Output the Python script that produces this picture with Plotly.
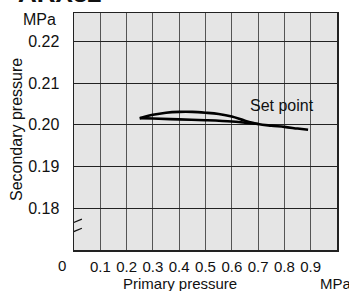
import plotly.graph_objects as go

# Data
upper_x = [0.25, 0.30, 0.35, 0.40, 0.45, 0.50, 0.55, 0.60, 0.65, 0.70, 0.75, 0.80, 0.85, 0.89]
upper_y = [0.2016, 0.2024, 0.2029, 0.2031, 0.2031, 0.2029, 0.2026, 0.2020, 0.2010, 0.2002, 0.1998, 0.1995, 0.1991, 0.1988]
lower_x = [0.25, 0.30, 0.40, 0.50, 0.60, 0.65, 0.70]
lower_y = [0.2016, 0.2015, 0.2013, 0.2011, 0.2008, 0.2005, 0.2002]
x_ticks = [0.1, 0.2, 0.3, 0.4, 0.5, 0.6, 0.7, 0.8, 0.9]
x_labels = ["0.1", "0.2", "0.3", "0.4", "0.5", "0.6", "0.7", "0.8", "0.9"]
y_ticks = [0.18, 0.19, 0.20, 0.21, 0.22]
y_labels = ["0.18", "0.19", "0.20", "0.21", "0.22"]

FONT = "Liberation Sans, Arial, sans-serif"
NARROW = "Liberation Sans Narrow, Arial Narrow, Liberation Sans, sans-serif"

fig = go.Figure()
line_style = dict(color="black", width=2.6, shape="spline", smoothing=1.0)
fig.add_trace(go.Scatter(x=upper_x, y=upper_y, mode="lines", line=line_style, showlegend=False, hoverinfo="skip"))
fig.add_trace(go.Scatter(x=lower_x, y=lower_y, mode="lines", line=line_style, showlegend=False, hoverinfo="skip"))

L, R, T, B, W, H = 74, 12, 13, 41, 349, 291
pw, ph = W - L - R, H - T - B

fig.update_layout(
    width=W, height=H,
    margin=dict(l=L, r=R, t=T, b=B, pad=0, autoexpand=False),
    paper_bgcolor="white",
    plot_bgcolor="#e5e5e5",
    font=dict(family=FONT, color="#111", size=16),
    xaxis=dict(
        range=[0, 1.0], tickvals=x_ticks, ticktext=x_labels,
        showgrid=True, gridcolor="#555", gridwidth=1,
        zeroline=False, showline=True, linecolor="#222", linewidth=1.5, mirror=True,
        ticks="", tickfont=dict(family=NARROW, size=15, color="#111"),
        ticklabelstandoff=2, fixedrange=True, automargin=False,
    ),
    yaxis=dict(
        range=[0.17, 0.2268], tickvals=y_ticks, ticktext=y_labels,
        showgrid=True, gridcolor="#222", gridwidth=1,
        zeroline=False, showline=True, linecolor="#222", linewidth=1.5, mirror=True,
        ticks="", tickfont=dict(family=FONT, size=16, color="#111"),
        ticklabelstandoff=10, fixedrange=True, automargin=False,
    ),
)

annotations = [
    dict(text="Set point", x=0.79, y=0.2047, xref="x", yref="y",
         font=dict(family=FONT, size=16, color="#111")),
    dict(text="MPa", x=39, y=20),
    dict(text="Secondary pressure", x=16, y=130, textangle=-90),
    dict(text="0", x=62, y=265, font=dict(family=NARROW, size=15, color="#111")),
    dict(text="Primary pressure", x=180, y=283, font=dict(family=NARROW, size=15, color="#111")),
    dict(text="MPa", x=336, y=283, font=dict(family=NARROW, size=15, color="#111")),
    dict(text="<b>ARX32</b>", x=60, y=-7, font=dict(family=FONT, size=26, color="#111")),
]
for a in annotations:
    if "xref" not in a:
        a["xref"] = "paper"; a["yref"] = "paper"
        a["x"] = (a["x"] - L) / pw
        a["y"] = (H - B - a["y"]) / ph
    a.setdefault("font", dict(family=FONT, size=16, color="#111"))
    a["xanchor"] = "center"; a["yanchor"] = "middle"; a["showarrow"] = False
fig.update_layout(annotations=annotations)

# axis break mark
for y0 in (0.1760, 0.1738):
    fig.add_shape(type="line", xref="x", yref="y", x0=-0.025, x1=0.03,
                  y0=y0, y1=y0 + 0.0014, line=dict(color="#111", width=1.2))

fig.write_html("out.html", config={"displayModeBar": False, "staticPlot": True},
               post_script="document.body.style.margin='0';document.body.style.overflow='hidden';")
